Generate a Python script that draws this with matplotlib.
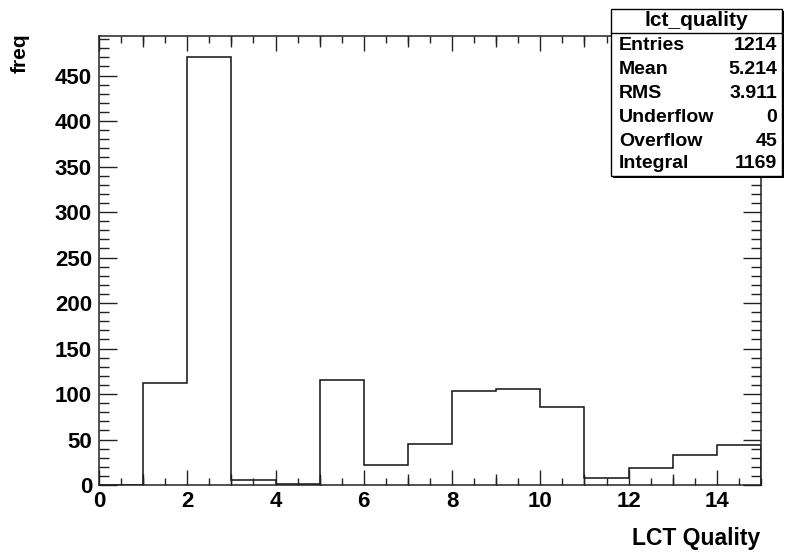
import numpy as np
import matplotlib
matplotlib.use("Agg")
import matplotlib.pyplot as plt
from matplotlib.patches import Rectangle
from matplotlib.ticker import MultipleLocator

plt.rcParams['font.family'] = ['Liberation Sans', 'DejaVu Sans']
plt.rcParams['font.weight'] = 'bold'

# LCT quality histogram, one bin per quality value
bin_edges = np.arange(0, 16, 1)
counts = [0, 112, 470, 5, 1, 115, 22, 45, 103, 106, 86, 8, 19, 33, 44]

# stat box contents
stat_title = "lct_quality"
stat_names = ["Entries", "Mean", "RMS", "Underflow", "Overflow", "Integral"]
stat_values = ["1214", "5.214", "3.911", "0", "45", "1169"]

W, H = 785, 555
fig = plt.figure(figsize=(W / 100, H / 100), dpi=100)

def fx(px):
    return px / W

def fy(py):
    return 1 - py / H

ax = fig.add_axes([fx(99), fy(485), fx(761) - fx(99), fy(36) - fy(485)])
ax.stairs(counts, bin_edges, color='#111111', lw=1.1, baseline=0)

ax.set_xlim(0, 15)
ax.set_ylim(0, max(counts) * 1.05)

ax.xaxis.set_major_locator(MultipleLocator(2))
ax.xaxis.set_minor_locator(MultipleLocator(0.5))
ax.yaxis.set_major_locator(MultipleLocator(50))
ax.yaxis.set_minor_locator(MultipleLocator(10))

ax.tick_params(which='both', direction='in', top=True, right=True, width=1, color='#222222')
ax.tick_params(axis='x', which='major', length=11)
ax.tick_params(axis='x', which='minor', length=5)
ax.tick_params(axis='y', which='major', length=13)
ax.tick_params(axis='y', which='minor', length=7)
ax.tick_params(axis='x', which='major', labelsize=16, pad=4)
ax.tick_params(axis='y', which='major', labelsize=16, pad=5)
for lab in ax.get_xticklabels() + ax.get_yticklabels():
    lab.set_fontweight('bold')

# medium ticks on odd integers
for loc in ['bottom', 'top']:
    sec = ax.secondary_xaxis(loc)
    sec.set_xticks(np.arange(1, 15, 2))
    sec.tick_params(direction='in', length=8, width=1, color='#222222',
                    labelbottom=False, labeltop=False)
    sec.spines[loc].set_visible(False)

for s in ax.spines.values():
    s.set_linewidth(1.1)
    s.set_color('#222222')

fig.text(fx(760), fy(538), "LCT Quality", ha='right', va='center',
         fontsize=16.5, fontweight='bold')
fig.text(fx(20), fy(33), "freq", ha='center', va='top', rotation=90,
         fontsize=15, fontweight='bold')

# stat box with shadow
bx0, bx1, by0, by1 = 611, 782, 9, 176
fig.patches.append(Rectangle((fx(bx0 + 2), fy(by1 + 2)), fx(bx1 - bx0), fy(by0) - fy(by1),
                             transform=fig.transFigure, facecolor='black', edgecolor='none', zorder=5))
fig.patches.append(Rectangle((fx(bx0), fy(by1)), fx(bx1 - bx0), fy(by0) - fy(by1),
                             transform=fig.transFigure, facecolor='white', edgecolor='black',
                             lw=1, zorder=6))
fig.add_artist(plt.Line2D([fx(bx0), fx(bx1)], [fy(33), fy(33)], color='black', lw=1,
                          transform=fig.transFigure, zorder=7))
fig.text(fx((bx0 + bx1) / 2), fy(20), stat_title, ha='center', va='center',
         fontsize=15, fontweight='bold', zorder=8)
row_y = [46, 70, 94, 118, 141, 164]
for name, val, ry in zip(stat_names, stat_values, row_y):
    fig.text(fx(619), fy(ry), name, ha='left', va='center', fontsize=14,
             fontweight='bold', zorder=8)
    fig.text(fx(777), fy(ry), val, ha='right', va='center', fontsize=14,
             fontweight='bold', zorder=8)

fig.savefig("out.png", dpi=100)
